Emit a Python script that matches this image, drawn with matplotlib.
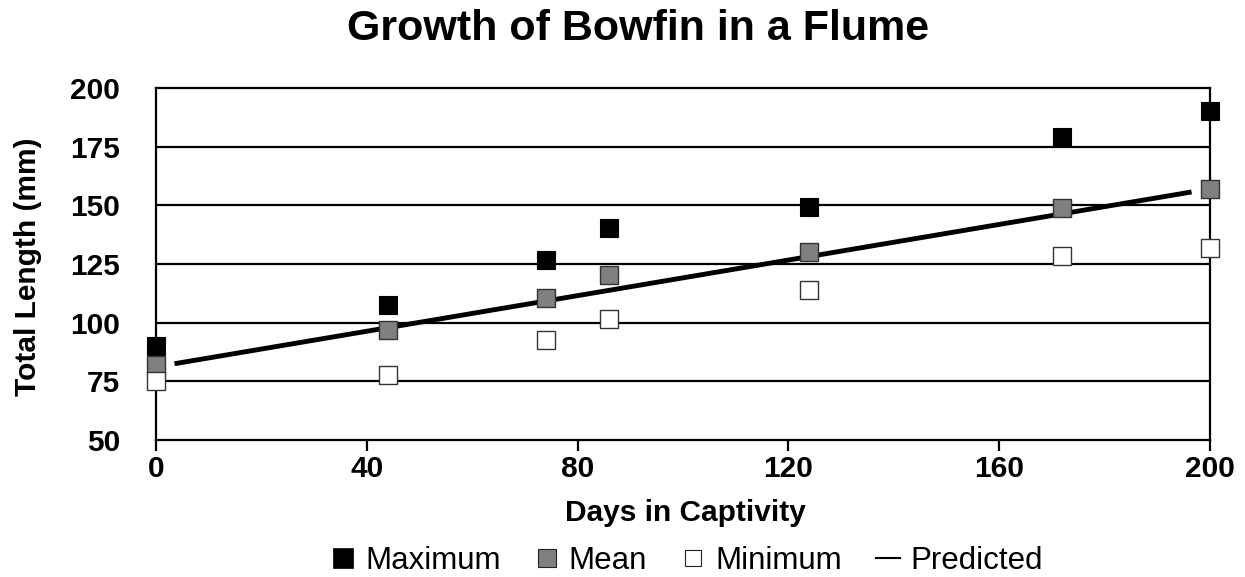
"""
Growth of Bowfin in a Flume - total length vs days in captivity.
"""

import matplotlib
matplotlib.use("Agg")
import matplotlib.pyplot as plt
from matplotlib.lines import Line2D

plt.rcParams["font.family"] = ["Liberation Sans", "DejaVu Sans"]

# Data
days = [0, 44, 74, 86, 124, 172, 200]
max_len = [90, 107.5, 126.5, 140.5, 149.5, 179, 190]
mean_len = [82, 97, 110.5, 120.5, 130, 149, 157]
min_len = [75, 77.5, 92.5, 101.5, 114, 128.5, 132]

# Predicted growth line (end points)
pred_days = [3.5, 196.5]
pred_len = [82.5, 155.7]

x_ticks = [0, 40, 80, 120, 160, 200]
y_ticks = [50, 75, 100, 125, 150, 175, 200]

W, H = 1245, 577
fig = plt.figure(figsize=(W / 100, H / 100), dpi=100)
ax = fig.add_axes([156 / W, 1 - 440 / H, (1210 - 156) / W, (440 - 88) / H])

# horizontal grid lines
for y in y_ticks[1:-1]:
    ax.axhline(y, color="black", linewidth=1.6, zorder=1)

ax.plot(pred_days, pred_len, color="black", linewidth=3.5,
        solid_capstyle="butt", zorder=2)

ms = 13.5
ax.plot(days, max_len, ls="none", marker="s", markersize=ms,
        markerfacecolor="black", markeredgecolor="black",
        markeredgewidth=0.8, clip_on=False, zorder=3)
ax.plot(days, mean_len, ls="none", marker="s", markersize=ms - 0.5,
        markerfacecolor="#808080", markeredgecolor="#333333",
        markeredgewidth=1.0, clip_on=False, zorder=4)
ax.plot(days, min_len, ls="none", marker="s", markersize=ms - 0.5,
        markerfacecolor="white", markeredgecolor="#333333",
        markeredgewidth=1.0, clip_on=False, zorder=5)

ax.set_xlim(0, 200)
ax.set_ylim(50, 200)
ax.set_xticks(x_ticks)
ax.set_yticks(y_ticks)
ax.set_xticklabels([str(t) for t in x_ticks], fontsize=21.5, fontweight="bold")
ax.set_yticklabels([str(t) for t in y_ticks], fontsize=21.5, fontweight="bold")
ax.tick_params(axis="x", length=8, width=1.6, direction="out", pad=3)
ax.tick_params(axis="y", length=0, pad=26)

for sp in ax.spines.values():
    sp.set_linewidth(1.6)
    sp.set_color("black")

fig.text(638 / W, 1 - 29 / H, "Growth of Bowfin in a Flume",
         ha="center", va="center", fontsize=31, fontweight="bold")
fig.text(685 / W, 1 - 513 / H, "Days in Captivity",
         ha="center", va="center", fontsize=21.5, fontweight="bold")
fig.text(28 / W, 1 - 267 / H, "Total Length (mm)", rotation=90,
         ha="center", va="center", fontsize=21.5, fontweight="bold")

handles = [
    Line2D([], [], ls="none", marker="s", markersize=14.5,
           markerfacecolor="black", markeredgecolor="black", markeredgewidth=0.5),
    Line2D([], [], ls="none", marker="s", markersize=12.5,
           markerfacecolor="#808080", markeredgecolor="#222222", markeredgewidth=0.8),
    Line2D([], [], ls="none", marker="s", markersize=11.5,
           markerfacecolor="white", markeredgecolor="#222222", markeredgewidth=0.8),
    Line2D([], [], color="black", linewidth=1.5),
]
labels = ["Maximum", "Mean", "Minimum", "Predicted"]
fig.legend(handles, labels, loc="center", bbox_to_anchor=(687 / W, 1 - 561 / H),
           ncol=4, frameon=False, fontsize=22.5, handlelength=0.75,
           handletextpad=0.33, columnspacing=1.1, borderpad=0.1)

fig.savefig("out.png", dpi=100)
